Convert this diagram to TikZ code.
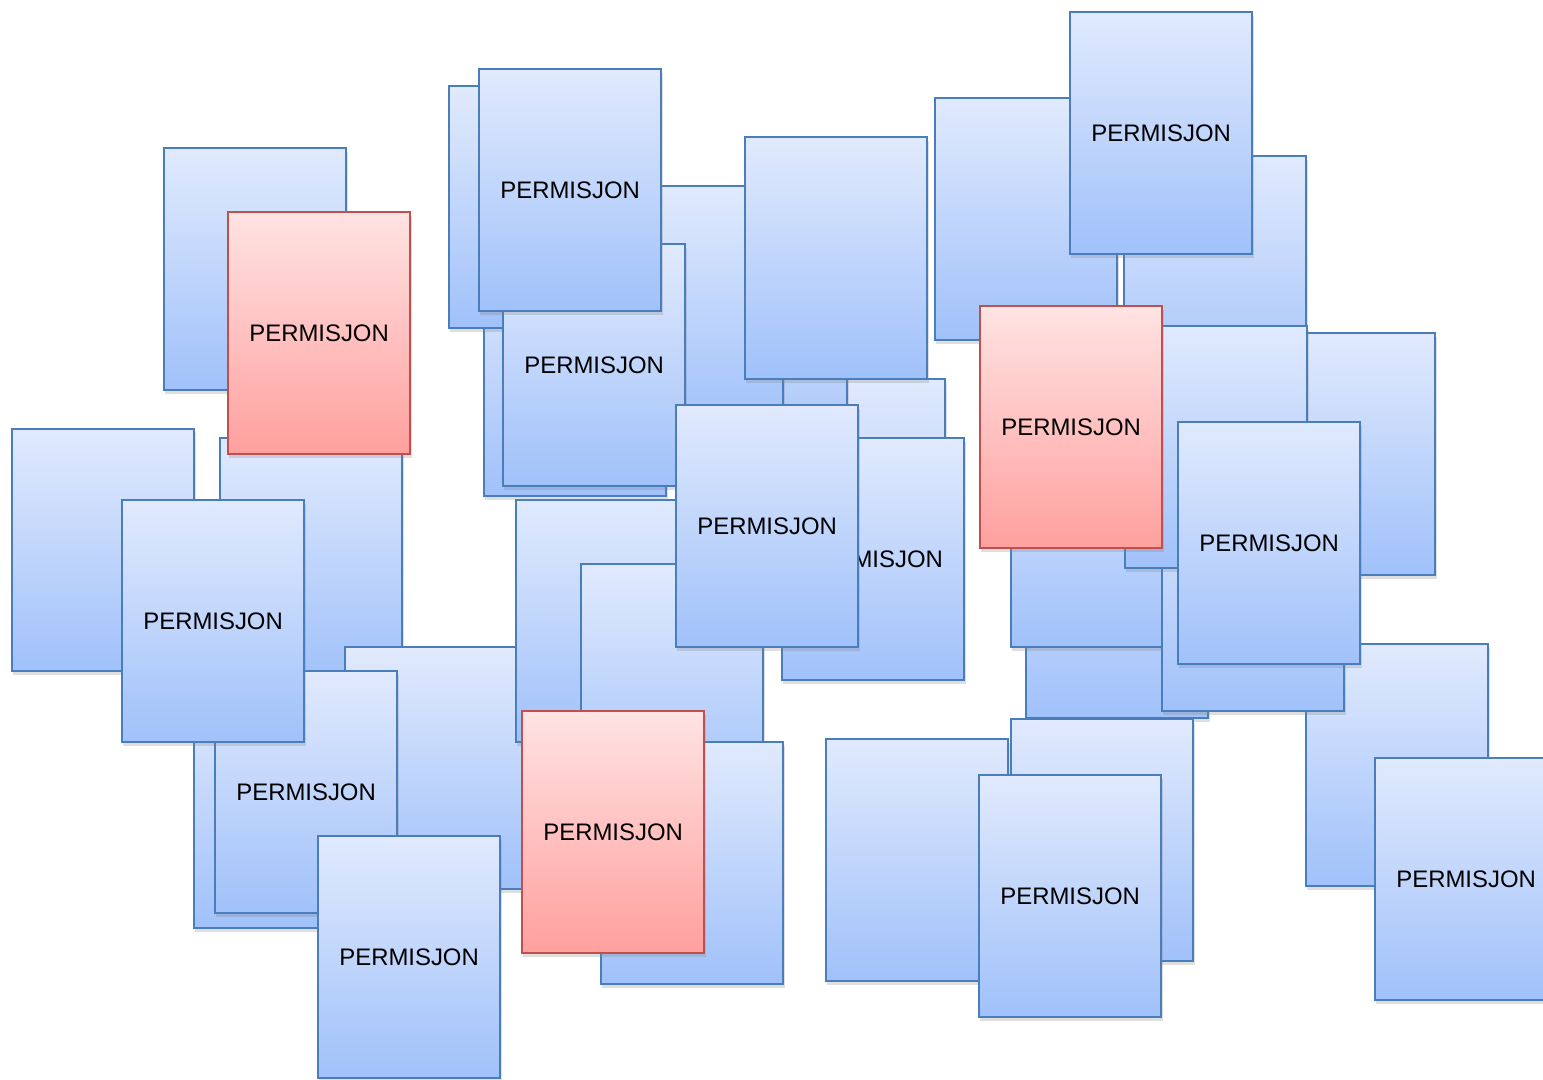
\documentclass[tikz,border=0pt]{standalone}
\usepackage{fontspec}
\setmainfont{Liberation Sans}
\usetikzlibrary{shadows}
\definecolor{cardtop}{RGB}{225,234,253}
\definecolor{cardbot}{RGB}{160,193,250}
\definecolor{cardline}{RGB}{74,126,187}
\definecolor{hottop}{RGB}{255,227,227}
\definecolor{hotbot}{RGB}{255,160,158}
\definecolor{hotline}{RGB}{192,80,77}

\begin{document}
\begin{tikzpicture}[
  x=0.01cm, y=-0.01cm,
  font=\fontsize{6.8}{8}\selectfont,
  card/.style={draw=cardline, line width=0.6pt, top color=cardtop, bottom color=cardbot,
               minimum width=1.82cm, minimum height=2.42cm, inner sep=0pt,
               anchor=north west,
               drop shadow={opacity=0.25, shadow xshift=0.4pt, shadow yshift=-1pt}},
  hotcard/.style={card, draw=hotline, top color=hottop, bottom color=hotbot}
]
  \fill[white] (0,0) rectangle (1543,1080);
  \useasboundingbox (0,0) rectangle (1543,1080);
  \clip (0,0) rectangle (1543,1080);

  \node[card] (c1) at (163,147) {};
  \node[card] (c2) at (219,437) {};
  \node[hotcard] (c3) at (227,211) {PERMISJON};
  \node[card] (c4) at (11,428) {};
  \node[card] (c6) at (193,685) {};
  \node[card] (c7) at (344,646) {};
  \node[card] (c8) at (214,670) {PERMISJON};
  \node[card] (c5) at (121,499) {PERMISJON};
  \node[card] (c9) at (515,499) {};
  \node[card] (c10) at (580,563) {};
  \node[card] (c11) at (600,741) {};
  \node[hotcard] (c12) at (521,710) {PERMISJON};
  \node[card] (c13) at (317,835) {PERMISJON};

  \node[card] (c14) at (762,378) {};
  \node[card] (c15) at (664,230) {};
  \node[card] (c16) at (600,185) {};
  \node[card] (c17) at (483,253) {};
  \node[card] (c18) at (448,85) {};
  \node[card] (c19) at (502,243) {PERMISJON};
  \node[card] (c20) at (478,68) {PERMISJON};
  \node[card] (c21) at (744,136) {};
  \node[card] (c22) at (781,437) {PERMISJON};
  \node[card] (c23) at (675,404) {PERMISJON};

  \node[card] (c24) at (934,97) {};
  \node[card] (c25) at (1123,155) {};
  \node[card] (c26) at (1069,11) {PERMISJON};
  \node[card] (c27) at (1025,475) {};
  \node[card] (c28) at (1010,404) {};
  \node[card] (c29) at (1252,332) {};
  \node[card] (c30) at (1305,643) {};
  \node[card] (c31) at (1161,468) {};
  \node[card] (c32) at (1124,325) {};
  \node[hotcard] (c33) at (979,305) {PERMISJON};
  \node[card] (c34) at (1177,421) {PERMISJON};
  \node[card] (c35) at (1010,718) {};
  \node[card] (c36) at (825,738) {};
  \node[card] (c37) at (978,774) {PERMISJON};
  \node[card] (c38) at (1374,757) {PERMISJON};
\end{tikzpicture}
\end{document}
